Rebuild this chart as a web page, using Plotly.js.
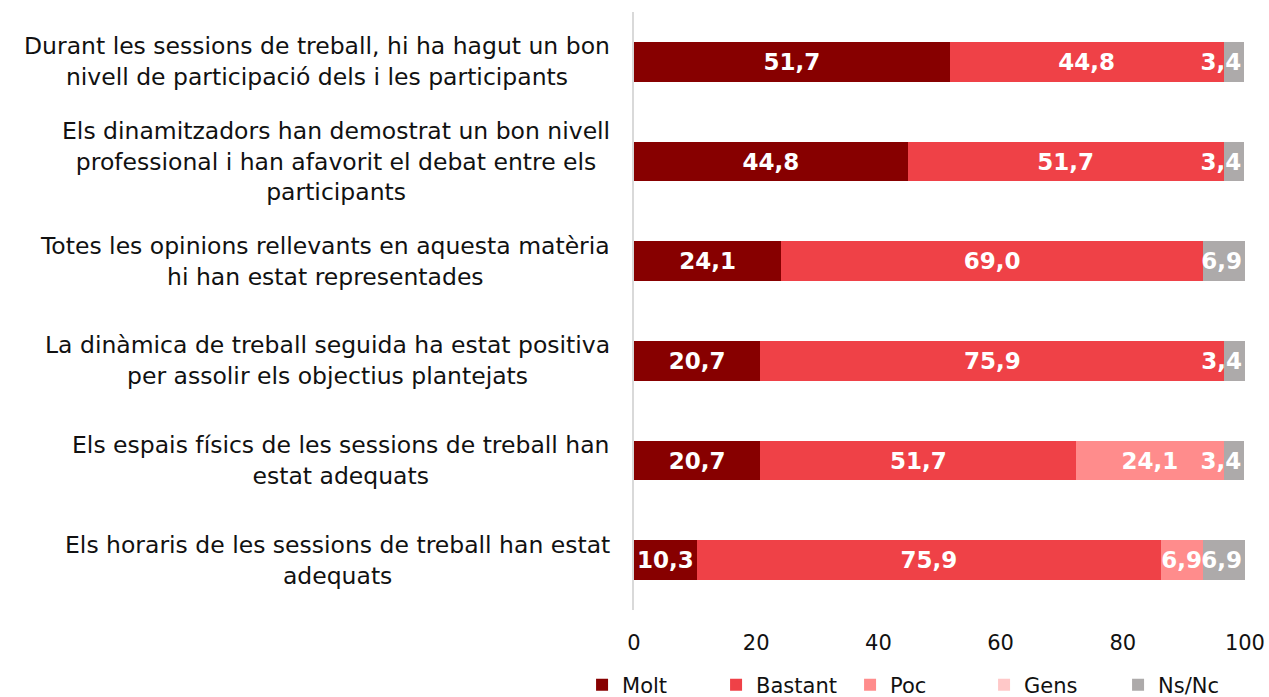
<!DOCTYPE html>
<html><head><meta charset="utf-8">
<script src="https://cdn.plot.ly/plotly-3.0.1.min.js"></script>
<style>html,body{margin:0;padding:0;background:#fff}</style>
</head><body><div id="chart" style="width:1269px;height:697px"></div>
<script>
const categories = [
  "Durant les sessions de treball, hi ha hagut un bon<br>nivell de participació dels i les participants",
  "Els dinamitzadors han demostrat un bon nivell<br>professional i han afavorit el debat entre els<br>participants",
  "Totes les opinions rellevants en aquesta matèria<br>hi han estat representades",
  "La dinàmica de treball seguida ha estat positiva<br>per assolir els objectius plantejats",
  "Els espais físics de les sessions de treball han<br>estat adequats",
  "Els horaris de les sessions de treball han estat<br>adequats"
];
const seriesNames = ["Molt", "Bastant", "Poc", "Gens", "Ns/Nc"];
const molt    = [51.7, 44.8, 24.1, 20.7, 20.7, 10.3];
const bastant = [44.8, 51.7, 69.0, 75.9, 51.7, 75.9];
const poc     = [0, 0, 0, 0, 24.1, 6.9];
const gens    = [0, 0, 0, 0, 0, 0];
const nsnc    = [3.4, 3.4, 6.9, 3.4, 3.4, 6.9];
const xTicks = [0, 20, 40, 60, 80, 100];

const colors = ["#870000", "#EF4147", "#FF8C8C", "#FFC8C8", "#ADAAAA"];
const allSeries = [molt, bastant, poc, gens, nsnc];
const ids = categories.map((c, i) => i);
const fmt = v => v > 0 ? v.toFixed(1).replace('.', ',') : "";
const txt = '#111111';

const traces = allSeries.map((vals, s) => ({
  type: 'bar', orientation: 'h', name: seriesNames[s],
  x: vals, y: ids,
  marker: {color: colors[s], line: {width: 0}},
  text: vals.map(fmt), textposition: 'inside', textangle: 0,
  insidetextanchor: s === 4 ? 'end' : 'middle',
  constraintext: 'none', cliponaxis: false,
  textfont: {family: 'DejaVu Sans', size: 23, color: '#ffffff', weight: 'bold'},
  hoverinfo: 'skip'
}));

const annotations = categories.map((c, i) => ({
  text: c, x: 0, xref: 'paper', y: i, yref: 'y',
  xanchor: 'right', yanchor: 'middle', xshift: -22,
  align: 'center', showarrow: false,
  font: {family: 'DejaVu Sans', size: 23.5, color: txt}
}));

const layout = {
  barmode: 'stack', bargap: 0.6,
  margin: {l: 634, r: 24, t: 12, b: 87, autoexpand: false},
  paper_bgcolor: '#ffffff', plot_bgcolor: '#ffffff',
  font: {family: 'DejaVu Sans', size: 21, color: txt},
  xaxis: {range: [0, 100.01], tickvals: xTicks, ticktext: xTicks.map(String),
          showgrid: false, zeroline: false, showline: false, ticks: '',
          tickfont: {family: 'DejaVu Sans', size: 21, color: txt}, ticklabelstandoff: 18},
  yaxis: {tickvals: ids, showticklabels: false, autorange: 'reversed', range: [5.5, -0.5],
          showgrid: false, zeroline: false, showline: true, linecolor: '#D9D9D9', linewidth: 2, ticks: ''},
  showlegend: true,
  legend: {orientation: 'h', x: -0.085, xanchor: 'left', y: -0.16, yanchor: 'bottom',
           entrywidth: 89, entrywidthmode: 'pixels',
           font: {family: 'DejaVu Sans', size: 21, color: txt}, traceorder: 'normal'},
  annotations: annotations
};
Plotly.newPlot('chart', traces, layout, {displayModeBar: false, staticPlot: true});
</script></body></html>
